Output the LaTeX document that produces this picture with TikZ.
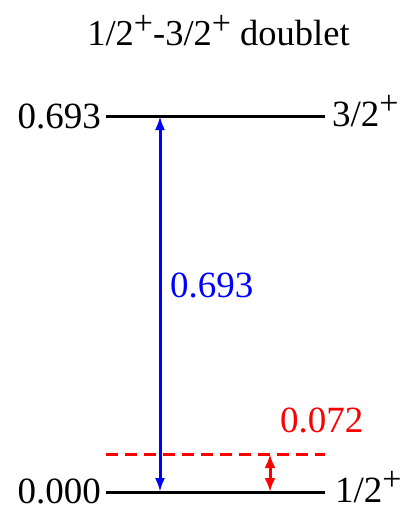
\documentclass[tikz,border=0pt]{standalone}
\usepackage{fontspec}
\setmainfont{Liberation Serif}
\usetikzlibrary{arrows.meta}
\newcommand{\plussup}{\raisebox{0.3em}{\fontsize{34}{34}\selectfont +}}
\tikzset{
  lbl/.style={font=\fontsize{37}{37}\selectfont, inner sep=0pt},
  level/.style={line width=3pt, black},
  blueArr/.style={line width=3pt, blue, {Latex[length=14pt,width=10pt]}-{Latex[length=14pt,width=10pt]}},
  redArr/.style={line width=3pt, red, {Latex[length=14pt,width=11pt]}-{Latex[length=14pt,width=11pt]}},
  dashlvl/.style={line width=3pt, red, dash pattern=on 12pt off 7pt}
}
\begin{document}
\begin{tikzpicture}[x=1pt,y=-1pt]
\useasboundingbox (0,0) rectangle (403,507);
% title
\node[lbl, font=\fontsize{36.5}{36.5}\selectfont, anchor=base] (title) at (218.5,45) {1/2\plussup-3/2\plussup{} doublet};
% level endpoints
\coordinate (uL) at (106,116);
\coordinate (uR) at (325,116);
\coordinate (lL) at (106,492);
\coordinate (lR) at (325,492);
\coordinate (dL) at (106,454);
\coordinate (dR) at (325,454);
\coordinate (bTop) at (160,116);
\coordinate (bBot) at (160,492);
\coordinate (rTop) at (270,454);
\coordinate (rBot) at (270,492);
% levels
\draw[level] (uL) -- (uR);
\draw[level] (lL) -- (lR);
\draw[dashlvl] (dL) -- (dR);
% arrows
\draw[blueArr] (bTop) -- (bBot);
\draw[redArr] (rTop) -- (rBot);
% labels
\node[lbl, anchor=east] (e1) at (101,116) {0.693};
\node[lbl, anchor=east] (e0) at (101,491) {0.000};
\node[lbl, anchor=base west] (j1) at (332,126) {3/2\plussup};
\node[lbl, anchor=base west] (j0) at (335,502) {1/2\plussup};
\node[lbl, anchor=west, blue] (bl) at (170,285) {0.693};
\node[lbl, anchor=west, red] (rl) at (280,420) {0.072};
\end{tikzpicture}
\end{document}
